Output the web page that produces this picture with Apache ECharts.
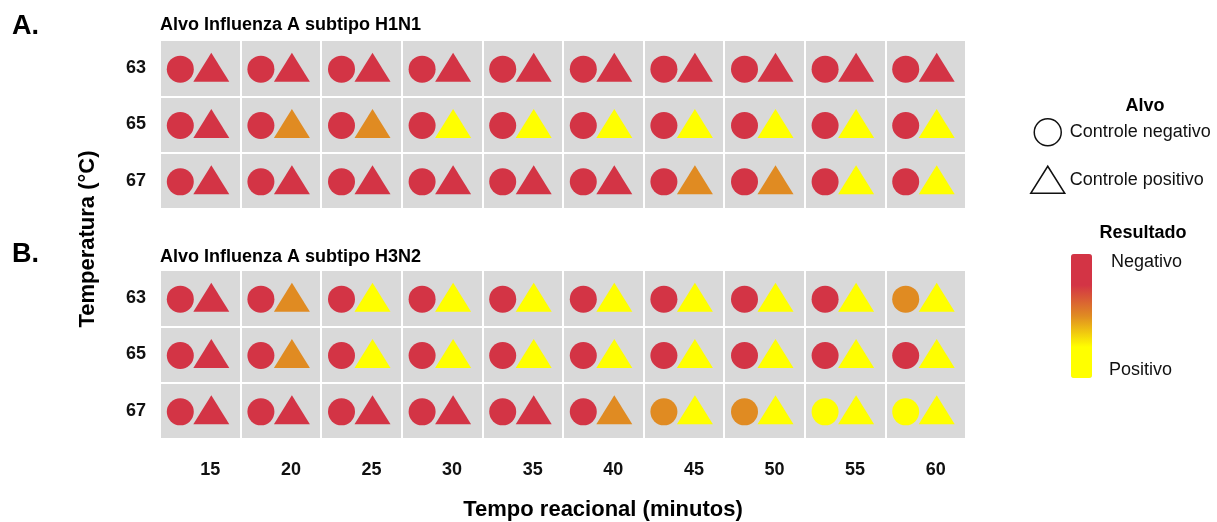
<!DOCTYPE html>
<html>
<head>
<meta charset="utf-8">
<style>html,body{margin:0;padding:0;background:#fff;}#chart{width:1217px;height:522px;}</style>
<script src="https://cdn.jsdelivr.net/npm/echarts@6/dist/echarts.min.js"></script>
</head>
<body>
<div id="chart"></div>
<script>
// Categories
var times = ['15', '20', '25', '30', '35', '40', '45', '50', '55', '60'];
var temps = ['63', '65', '67'];
// Result score: 1 = Negativo (red), 0.5 = intermediate (orange), 0 = Positivo (yellow)
// Rows follow temps order (63, 65, 67), columns follow times
var h1n1Circle = [
  [1, 1, 1, 1, 1, 1, 1, 1, 1, 1],
  [1, 1, 1, 1, 1, 1, 1, 1, 1, 1],
  [1, 1, 1, 1, 1, 1, 1, 1, 1, 1]
];
var h1n1Triangle = [
  [1, 1, 1, 1, 1, 1, 1, 1, 1, 1],
  [1, 0.5, 0.5, 0, 0, 0, 0, 0, 0, 0],
  [1, 1, 1, 1, 1, 1, 0.5, 0.5, 0, 0]
];
var h3n2Circle = [
  [1, 1, 1, 1, 1, 1, 1, 1, 1, 0.5],
  [1, 1, 1, 1, 1, 1, 1, 1, 1, 1],
  [1, 1, 1, 1, 1, 1, 0.5, 0.5, 0, 0]
];
var h3n2Triangle = [
  [1, 0.5, 0, 0, 0, 0, 0, 0, 0, 0],
  [1, 0.5, 0, 0, 0, 0, 0, 0, 0, 0],
  [1, 1, 1, 1, 1, 0.5, 0, 0, 0, 0]
];
var panelTitles = ['Alvo Influenza A subtipo H1N1', 'Alvo Influenza A subtipo H3N2'];
var panelLetters = ['A.', 'B.'];
var legendNames = ['Controle negativo', 'Controle positivo'];

function toData(grid) {
  var out = [];
  for (var r = 0; r < grid.length; r++) {
    for (var c = 0; c < grid[r].length; c++) {
      out.push([c, r, grid[r][c]]);
    }
  }
  return out;
}

var FONT = 'Liberation Sans, Arial, sans-serif';
var RED = '#D33445', ORANGE = '#E08B22', YELLOW = '#FFFF00';

function xAxisFor(gi, showLabels) {
  return {
    type: 'category', gridIndex: gi, data: times, boundaryGap: true,
    axisLine: {show: false}, axisTick: {show: false},
    axisLabel: {show: showLabels, margin: 22, fontSize: 18, fontWeight: 'bold', color: '#111', fontFamily: FONT, padding: [0, 0, 0, 20]},
    splitLine: {show: true, interval: 0, lineStyle: {color: '#ffffff', width: 2}}
  };
}
function yAxisFor(gi) {
  return {
    type: 'category', gridIndex: gi, data: temps, inverse: true, boundaryGap: true,
    axisLine: {show: false}, axisTick: {show: false},
    axisLabel: {margin: 14, fontSize: 18, fontWeight: 'bold', color: '#111', fontFamily: FONT},
    splitLine: {show: true, interval: 0, lineStyle: {color: '#ffffff', width: 2}}
  };
}
function circleSeries(gi, grid) {
  return {
    name: legendNames[0], type: 'scatter', xAxisIndex: gi, yAxisIndex: gi,
    symbol: 'circle', symbolSize: 27, symbolOffset: [-20, 1],
    itemStyle: {opacity: 1},
    data: toData(grid), silent: true
  };
}
function triSeries(gi, grid) {
  return {
    name: legendNames[1], type: 'scatter', xAxisIndex: gi, yAxisIndex: gi,
    symbol: 'triangle', symbolSize: [36, 29], symbolOffset: [11, -1],
    itemStyle: {opacity: 1},
    data: toData(grid), silent: true
  };
}

var chart = echarts.init(document.getElementById('chart'), null, {renderer: 'canvas'});
var option = {
  backgroundColor: '#ffffff',
  animation: false,
  grid: [
    {left: 160, width: 806, top: 40, height: 169, show: true, backgroundColor: '#D9D9D9', borderWidth: 0},
    {left: 160, width: 806, top: 270, height: 169, show: true, backgroundColor: '#D9D9D9', borderWidth: 0}
  ],
  xAxis: [xAxisFor(0, false), xAxisFor(1, true)],
  yAxis: [yAxisFor(0), yAxisFor(1)],
  visualMap: {
    type: 'continuous', min: 0, max: 1, dimension: 2, seriesIndex: [0, 1, 2, 3],
    orient: 'vertical', left: 1071, top: 254, itemWidth: 21, itemHeight: 124,
    padding: 0, itemGap: 0,
    calculable: false, showLabel: false, text: null,
    inRange: {color: [YELLOW, YELLOW, ORANGE, RED, RED]}
  },
  legend: {
    orient: 'vertical', left: 1030, top: 118, itemWidth: 34, itemHeight: 27, itemGap: 19,
    padding: 0,
    textStyle: {fontSize: 18, color: '#111', fontFamily: FONT},
    selectedMode: false,
    itemStyle: {color: 'rgba(0,0,0,0)', borderColor: '#111', borderWidth: 1.5},
    data: [
      {name: legendNames[0], icon: 'circle', itemStyle: {color: 'rgba(0,0,0,0)', borderColor: '#111', borderWidth: 1.5}},
      {name: legendNames[1], icon: 'triangle', itemStyle: {color: 'rgba(0,0,0,0)', borderColor: '#111', borderWidth: 1.5}}
    ]
  },
  series: [
    circleSeries(0, h1n1Circle), triSeries(0, h1n1Triangle),
    circleSeries(1, h3n2Circle), triSeries(1, h3n2Triangle)
  ],
  graphic: [
    {type: 'text', x: 12, y: 27, style: {text: panelLetters[0], font: 'bold 27px ' + FONT, fill: '#000', textVerticalAlign: 'middle'}},
    {type: 'text', x: 12, y: 255, style: {text: panelLetters[1], font: 'bold 27px ' + FONT, fill: '#000', textVerticalAlign: 'middle'}},
    {type: 'text', x: 160, y: 25, style: {text: panelTitles[0], font: 'bold 18px ' + FONT, fill: '#000', textVerticalAlign: 'middle'}},
    {type: 'text', x: 160, y: 257, style: {text: panelTitles[1], font: 'bold 18px ' + FONT, fill: '#000', textVerticalAlign: 'middle'}},
    {type: 'text', x: 88, y: 239, rotation: Math.PI / 2, style: {text: 'Temperatura (°C)', font: 'bold 22px ' + FONT, fill: '#000', textAlign: 'center', textVerticalAlign: 'middle'}},
    {type: 'text', x: 603, y: 510, style: {text: 'Tempo reacional (minutos)', font: 'bold 22px ' + FONT, fill: '#000', textAlign: 'center', textVerticalAlign: 'middle'}},
    {type: 'text', x: 1145, y: 106, style: {text: 'Alvo', font: 'bold 18px ' + FONT, fill: '#000', textAlign: 'center', textVerticalAlign: 'middle'}},
    {type: 'text', x: 1143, y: 233, style: {text: 'Resultado', font: 'bold 18px ' + FONT, fill: '#000', textAlign: 'center', textVerticalAlign: 'middle'}},
    {type: 'text', x: 1111, y: 262, style: {text: 'Negativo', font: '18px ' + FONT, fill: '#111', textVerticalAlign: 'middle'}},
    {type: 'text', x: 1109, y: 370, style: {text: 'Positivo', font: '18px ' + FONT, fill: '#111', textVerticalAlign: 'middle'}}
  ]
};
chart.setOption(option);
</script>
</body>
</html>
